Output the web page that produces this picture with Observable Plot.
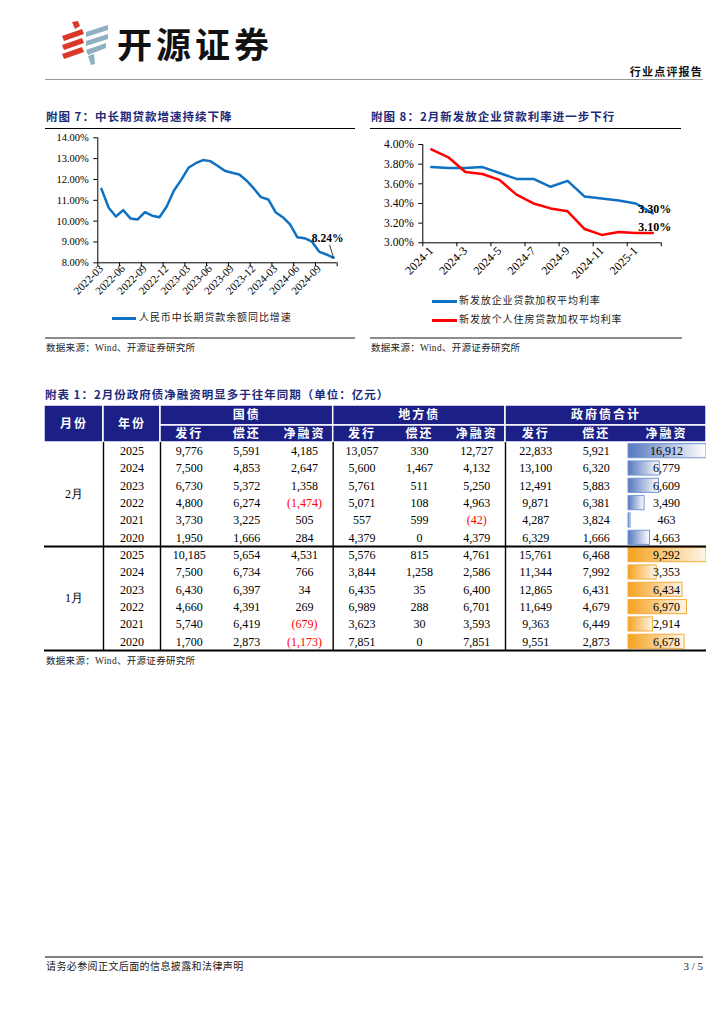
<!DOCTYPE html>
<html><head><meta charset="utf-8">
<script src="https://cdn.jsdelivr.net/npm/d3@7"></script>
<script src="https://cdn.jsdelivr.net/npm/@observablehq/plot@0.6"></script>
<style>
body{margin:0;background:#fff;}
#page{position:relative;width:724px;height:1024px;overflow:hidden;font-family:"Noto Sans CJK SC",sans-serif;background:#fff;}
.abs{position:absolute;white-space:nowrap;line-height:1;}
.title{font-size:11.5px;font-weight:bold;color:#1d2a7a;letter-spacing:1px;}
.src{font-size:9.5px;color:#222;letter-spacing:0.3px;}
.leg{font-size:10px;color:#222;letter-spacing:0.9px;}
.serif{font-family:"Liberation Serif","Noto Sans CJK SC",serif;}
</style></head><body><div id="page">
<svg class="abs" style="left:58px;top:20px" width="54" height="46" viewBox="0 0 54 46">
  <g fill="#d8392b">
    <path d="M14 2 L20 1 L22 6 L17 9 Z"/>
    <path d="M4 16 L24 9 L26 14 L6 21 Z"/>
    <path d="M4 25 L24 18 L26 23 L6 30 Z"/>
    <path d="M4 34 L24 27 L26 32 L6 39 Z"/>
  </g>
  <g fill="#8fb0c1">
    <path d="M28 12 L50 5 L50 10 L28 17 Z"/>
    <path d="M28 21 L50 14 L50 19 L28 26 Z"/>
    <path d="M28 30 L48 23 L48 28 L30 35 Z"/>
    <path d="M30 36 L36 34 L37 44 L33 45 Z"/>
  </g>
</svg>
<div class="abs" style="left:117px;top:25px;font-size:35px;font-weight:bold;letter-spacing:4px;color:#111;">开源证券</div>
<div class="abs" style="right:21px;top:66px;font-size:11px;font-weight:bold;letter-spacing:1.2px;color:#111;">行业点评报告</div>
<div class="abs" style="left:45px;top:79px;width:658px;height:1px;background:#999;"></div>

<div class="abs title" style="left:46px;top:111px;">附图 7：中长期贷款增速持续下降</div>
<div class="abs" style="left:45px;top:128px;width:310px;height:1px;background:#000;"></div>
<div id="c1" class="abs" style="left:40px;top:125px;"></div>
<div class="abs" style="left:112px;top:317px;width:24px;height:2.5px;background:#0f71c1;"></div>
<div class="abs leg" style="left:139px;top:312px;">人民币中长期贷款余额同比增速</div>
<div class="abs" style="left:45px;top:337px;width:310px;height:2px;background:#8c8c8c;"></div>
<div class="abs src" style="left:46px;top:343px;">数据来源：<span class="serif">Wind</span>、开源证券研究所</div>

<div class="abs title" style="left:371px;top:111px;">附图 8：2月新发放企业贷款利率进一步下行</div>
<div class="abs" style="left:370px;top:128px;width:311px;height:1px;background:#000;"></div>
<div id="c2" class="abs" style="left:365px;top:130px;"></div>
<div class="abs" style="left:432px;top:300px;width:25px;height:2.5px;background:#0f71c1;"></div>
<div class="abs leg" style="left:459px;top:295px;">新发放企业贷款加权平均利率</div>
<div class="abs" style="left:432px;top:319px;width:25px;height:2.5px;background:#ff0000;"></div>
<div class="abs leg" style="left:459px;top:314px;">新发放个人住房贷款加权平均利率</div>
<div class="abs" style="left:370px;top:337px;width:312px;height:2px;background:#8c8c8c;"></div>
<div class="abs src" style="left:371px;top:343px;">数据来源：<span class="serif">Wind</span>、开源证券研究所</div>

<div class="abs title" style="left:45px;top:389px;">附表 1：2月份政府债净融资明显多于往年同期（单位：亿元）</div>
<div id="tbl" class="abs" style="left:44px;top:405px;"></div>
<div class="abs src" style="left:46px;top:656px;">数据来源：<span class="serif">Wind</span>、开源证券研究所</div>

<div class="abs" style="left:45px;top:956px;width:658px;height:2px;background:#808080;"></div>
<div class="abs" style="left:46px;top:961px;font-size:10px;color:#222;letter-spacing:0.4px;">请务必参阅正文后面的信息披露和法律声明</div>
<div class="abs serif" style="right:21px;top:961px;font-size:11px;color:#222;">3 / 5</div>
</div>
<script>
// ---- Chart 1 data ----
const loanMonths = ["2022-03","2022-04","2022-05","2022-06","2022-07","2022-08","2022-09","2022-10","2022-11","2022-12",
  "2023-01","2023-02","2023-03","2023-04","2023-05","2023-06","2023-07","2023-08","2023-09","2023-10","2023-11","2023-12",
  "2024-01","2024-02","2024-03","2024-04","2024-05","2024-06","2024-07","2024-08","2024-09","2024-10","2024-11"];
const loanGrowth = [11.55,10.64,10.22,10.53,10.13,10.08,10.43,10.26,10.19,10.70,
  11.47,11.98,12.56,12.78,12.93,12.88,12.66,12.42,12.32,12.24,11.95,11.57,
  11.15,11.04,10.43,10.19,9.84,9.23,9.18,9.02,8.54,8.40,8.24];
const loanYTicks = [8,9,10,11,12,13,14];

// ---- Chart 2 data ----
const rateMonths = ["2024-1","2024-2","2024-3","2024-4","2024-5","2024-6","2024-7","2024-8","2024-9","2024-10","2024-11","2024-12","2025-1","2025-2"];
const corpRate = [3.77,3.76,3.76,3.77,3.71,3.65,3.65,3.57,3.63,3.47,3.45,3.43,3.40,3.30];
const mortgageRate = [3.95,3.87,3.72,3.70,3.64,3.49,3.40,3.35,3.32,3.14,3.08,3.11,3.10,3.10];
const rateYTicks = [3.0,3.2,3.4,3.6,3.8,4.0];

// ---- Table data ----
const tableMonths = ["2月","1月"];
const tableYears = [2025,2024,2023,2022,2021,2020];
const febGovIssue = [9776,7500,6730,4800,3730,1950];
const febGovRepay = [5591,4853,5372,6274,3225,1666];
const febGovNet = [4185,2647,1358,-1474,505,284];
const febLocalIssue = [13057,5600,5761,5071,557,4379];
const febLocalRepay = [330,1467,511,108,599,0];
const febLocalNet = [12727,4132,5250,4963,-42,4379];
const febTotalIssue = [22833,13100,12491,9871,4287,6329];
const febTotalRepay = [5921,6320,5883,6381,3824,1666];
const febTotalNet = [16912,6779,6609,3490,463,4663];
const janGovIssue = [10185,7500,6430,4660,5740,1700];
const janGovRepay = [5654,6734,6397,4391,6419,2873];
const janGovNet = [4531,766,34,269,-679,-1173];
const janLocalIssue = [5576,3844,6435,6989,3623,7851];
const janLocalRepay = [815,1258,35,288,30,0];
const janLocalNet = [4761,2586,6400,6701,3593,7851];
const janTotalIssue = [15761,11344,12865,11649,9363,9551];
const janTotalRepay = [6468,7992,6431,4679,6449,2873];
const janTotalNet = [9292,3353,6434,6970,2914,6678];
const groupHeaders = ["国债","地方债","政府债合计"];
const subHeaders = ["发行","偿还","净融资"];

const BLUE = "#0f71c1", RED = "#ff0000", NAVY = "#1b1f86";
const serif = "Liberation Serif";

// ---------- Chart 1 ----------
{
  const data = loanMonths.map((m, i) => ({i, m, v: loanGrowth[i]}));
  const bounds = d3.range(-0.5, loanMonths.length, 3);
  const labelPos = d3.range(0, loanMonths.length, 3);
  const last = data[data.length - 1];
  const p = Plot.plot({
    width: 310, height: 175,
    marginLeft: 57.3, marginRight: 13.3, marginTop: 12.3, marginBottom: 37.7,
    x: {domain: [-0.5, loanMonths.length - 0.5], label: null},
    y: {domain: [8, 14], label: null},
    style: {fontFamily: serif, fontSize: "10.5px", color: "#000", background: "transparent"},
    marks: [
      Plot.axisY(loanYTicks, {tickFormat: d => d.toFixed(2) + "%", tickSize: 4, tickPadding: 5, label: null, fontSize: 10.5}),
      Plot.axisX(bounds, {tickFormat: () => "", tickSize: 4, label: null}),
      Plot.axisX(labelPos, {tickFormat: i => loanMonths[i], tickRotate: -45, tickSize: 0, tickPadding: 4, label: null, fontSize: 11}),
      Plot.ruleX([-0.5], {stroke: "#000", strokeWidth: 1}),
      Plot.ruleY([8], {stroke: "#000", strokeWidth: 1}),
      Plot.line(data, {x: "i", y: "v", stroke: BLUE, strokeWidth: 2.5, strokeLinejoin: "round"}),
      Plot.link([last], {x1: d => d.i - 0.55, y1: d => d.v + 0.62, x2: "i", y2: "v", stroke: "#000", strokeWidth: 0.8}),
      Plot.text([last], {x: "i", y: "v", text: d => d.v.toFixed(2) + "%", dx: -6, dy: -19, fontWeight: "bold", fontSize: 11.5, fill: "#000"})
    ]
  });
  document.getElementById("c1").appendChild(p);
}

// ---------- Chart 2 ----------
{
  const corp = rateMonths.map((m, i) => ({i, m, v: corpRate[i]}));
  const mort = rateMonths.map((m, i) => ({i, m, v: mortgageRate[i]}));
  const bounds = d3.range(-0.5, rateMonths.length, 2);
  const labelPos = d3.range(0, rateMonths.length, 2);
  const p = Plot.plot({
    width: 320, height: 170,
    marginLeft: 57.3, marginRight: 24.2, marginTop: 14, marginBottom: 57.7,
    x: {domain: [-0.5, rateMonths.length - 0.5], label: null},
    y: {domain: [3, 4], label: null},
    style: {fontFamily: serif, fontSize: "11px", color: "#000", background: "transparent"},
    marks: [
      Plot.axisY(rateYTicks, {tickFormat: d => d.toFixed(2) + "%", tickSize: 4, tickPadding: 5, label: null, fontSize: 11.5}),
      Plot.axisX(bounds, {tickFormat: () => "", tickSize: 4, label: null}),
      Plot.axisX(labelPos, {tickFormat: i => rateMonths[i], tickRotate: -45, tickSize: 0, tickPadding: 6, label: null, fontSize: 12}),
      Plot.ruleX([-0.5], {stroke: "#000", strokeWidth: 1}),
      Plot.ruleY([3], {stroke: "#000", strokeWidth: 1}),
      Plot.line(corp, {x: "i", y: "v", stroke: BLUE, strokeWidth: 2.5, strokeLinejoin: "round"}),
      Plot.line(mort, {x: "i", y: "v", stroke: RED, strokeWidth: 2.5, strokeLinejoin: "round"}),
      Plot.text([corp[corp.length - 1]], {x: "i", y: "v", text: d => d.v.toFixed(2) + "%", dx: 2, dy: -4, fontWeight: "bold", fontSize: 12, fill: "#000"}),
      Plot.text([mort[mort.length - 1]], {x: "i", y: "v", text: d => d.v.toFixed(2) + "%", dx: 2, dy: -6, fontWeight: "bold", fontSize: 12, fill: "#000"})
    ]
  });
  document.getElementById("c2").appendChild(p);
}

// ---------- Table ----------
{
  const W = 662, H = 247;
  const colEdges = [0, 59, 116, 173.6, 231.1, 288.7, 346.2, 403.6, 461, 521.5, 582, 662];
  const headTop = 0, headMid = 20, headBot = 37, rowH = 17.33;
  const center = c => (colEdges[c] + colEdges[c + 1]) / 2;
  const groups = [
    {name: tableMonths[0], cols: [febGovIssue, febGovRepay, febGovNet, febLocalIssue, febLocalRepay, febLocalNet, febTotalIssue, febTotalRepay, febTotalNet], grad: "url(#gradBlue)", border: "#7596d4"},
    {name: tableMonths[1], cols: [janGovIssue, janGovRepay, janGovNet, janLocalIssue, janLocalRepay, janLocalNet, janTotalIssue, janTotalRepay, janTotalNet], grad: "url(#gradOrange)", border: "#f3ad3c"}
  ];
  const fmt = v => v < 0 ? "(" + d3.format(",")(-v) + ")" : d3.format(",")(v);
  const cells = [], bars = [], monthLabels = [];
  groups.forEach((g, gi) => {
    const netArr = g.cols[8];
    const max = d3.max(netArr);
    tableYears.forEach((yr, r) => {
      const row = gi * tableYears.length + r;
      const yTop = headBot + row * rowH;
      cells.push({x: center(1), y: yTop + rowH / 2, t: String(yr), neg: false});
      g.cols.forEach((arr, c) => {
        cells.push({x: center(c + 2), y: yTop + rowH / 2, t: fmt(arr[r]), neg: arr[r] < 0});
      });
      const v = netArr[r];
      bars.push({x1: colEdges[10] + 2, x2: colEdges[10] + 2 + (v / max) * (colEdges[11] - colEdges[10] - 2), y1: yTop + 1.6, y2: yTop + rowH - 1.6, fill: g.grad, stroke: g.border});
    });
    monthLabels.push({x: center(0), y: headBot + (gi * tableYears.length + tableYears.length / 2) * rowH, t: g.name});
  });
  const headRects = [
    {x1: colEdges[0], x2: colEdges[1], y1: headTop, y2: headBot, t: "月份"},
    {x1: colEdges[1], x2: colEdges[2], y1: headTop, y2: headBot, t: "年份"}
  ];
  groupHeaders.forEach((h, gi) => {
    const a = colEdges[2 + gi * 3], b = colEdges[5 + gi * 3];
    headRects.push({x1: a, x2: b, y1: headTop, y2: headMid, t: h});
    headRects.push({x1: a, x2: b, y1: headMid, y2: headBot, t: ""});
  });
  const subTexts = [];
  for (let c = 2; c < 11; c++) subTexts.push({x: center(c), y: (headMid + headBot) / 2, t: subHeaders[(c - 2) % 3]});
  const bodyBottom = headBot + rowH * tableYears.length * 2;
  const vlines = [1, 2, 5, 8].map(c => ({x: colEdges[c], y1: headBot, y2: bodyBottom}));
  const hlines = [headBot + rowH * tableYears.length, bodyBottom].map(y => ({y, x1: 0, x2: W}));

  const p = Plot.plot({
    width: W, height: H, margin: 0,
    x: {domain: [0, W], range: [0, W], axis: null},
    y: {domain: [0, H], range: [0, H], axis: null},
    style: {fontFamily: serif, background: "transparent", color: "#000"},
    marks: [
      Plot.rect(headRects, {x1: "x1", x2: "x2", y1: "y1", y2: "y2", fill: NAVY, stroke: "#fff", strokeWidth: 1.5}),
      Plot.text(headRects, {x: d => (d.x1 + d.x2) / 2, y: d => (d.y1 + d.y2) / 2, text: "t", fill: "#fff", fontWeight: "bold", fontSize: 12, fontFamily: "Noto Sans CJK SC"}),
      Plot.text(subTexts, {x: "x", y: "y", text: "t", fill: "#fff", fontWeight: "bold", fontSize: 12, fontFamily: "Noto Sans CJK SC"}),
      Plot.rect(bars, {x1: "x1", x2: "x2", y1: "y1", y2: "y2", fill: d => d.fill, stroke: d => d.stroke, strokeWidth: 1}),
      Plot.ruleX(vlines, {x: "x", y1: "y1", y2: "y2", stroke: "#000", strokeWidth: 1.4}),
      Plot.ruleY(hlines, {y: "y", x1: "x1", x2: "x2", stroke: "#000", strokeWidth: 2}),
      Plot.text(cells, {x: "x", y: "y", text: "t", fill: d => d.neg ? RED : "#000", fontSize: 12}),
      Plot.text(monthLabels, {x: "x", y: "y", text: "t", fill: "#000", fontSize: 12})
    ]
  });
  document.getElementById("tbl").appendChild(p);
  // letter spacing for header labels
  p.querySelectorAll("text").forEach(t => { if (/^(月份|年份|国债|地方债|政府债合计|发行|偿还|净融资)$/.test(t.textContent)) t.setAttribute("letter-spacing", "2px"); });
  const ns = "http://www.w3.org/2000/svg";
  const defs = document.createElementNS(ns, "defs");
  defs.innerHTML = '<linearGradient id="gradBlue" x1="0" x2="1" y1="0" y2="0"><stop offset="0" stop-color="#5678bf"/><stop offset="1" stop-color="#ffffff"/></linearGradient>' +
    '<linearGradient id="gradOrange" x1="0" x2="1" y1="0" y2="0"><stop offset="0" stop-color="#f5a11e"/><stop offset="1" stop-color="#fff6e8"/></linearGradient>';
  p.insertBefore(defs, p.firstChild);
}
</script>
</body></html>
